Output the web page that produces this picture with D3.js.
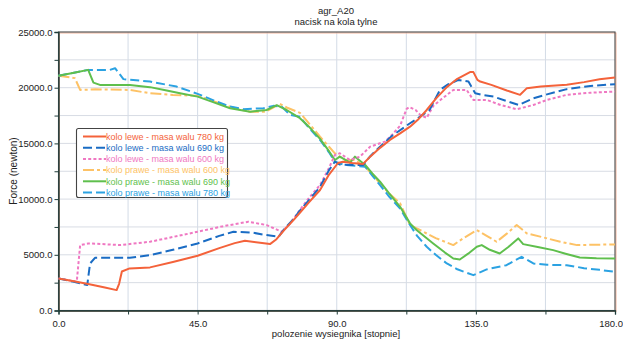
<!DOCTYPE html>
<html><head><meta charset="utf-8">
<script src="https://cdn.jsdelivr.net/npm/d3@7"></script>
<style>body{margin:0;background:#fff}svg{display:block}text{font-family:"Liberation Sans",Arial,sans-serif}</style>
</head><body><svg id="c" width="623" height="341"></svg>
<script>
const title1 = "agr_A20";
const title2 = "nacisk na kola tylne";
const xLabel = "polozenie wysiegnika [stopnie]";
const yLabel = "Force (newton)";
const xTickValues = [0, 45, 90, 135, 180];
const yTickValues = [0, 5000, 10000, 15000, 20000, 25000];
const seriesNames = [
  "kolo lewe - masa walu 780 kg",
  "kolo lewe - masa walu 690 kg",
  "kolo lewe - masa walu 600 kg",
  "kolo prawe - masa walu 600 kg",
  "kolo prawe - masa walu 690 kg",
  "kolo prawe - masa walu 780 kg"
];
// [degree, force]
const lewe780 = [[0,2880],[5,2620],[10,2350],[15,2060],[18.8,1830],[19.6,2400],[20.5,3500],[23,3780],[29.6,3870],[37,4350],[45,4910],[52,5600],[57,6050],[60.3,6260],[65.2,6080],[68.4,5960],[70.5,6400],[73,7220],[76,8120],[78,8750],[81,9700],[84.6,10820],[87.5,12200],[90.4,13240],[92,13360],[95,13250],[98.5,13150],[100.8,13810],[104,14600],[107.2,15310],[110.5,15900],[113.7,16500],[116.5,17200],[119.1,18000],[122,19000],[125.6,20050],[129,20800],[133.1,21400],[134.2,21400],[135.5,20700],[136.4,20550],[140,20250],[145,19750],[149.3,19360],[151.5,19960],[156,20100],[164.4,20260],[170,20500],[175,20750],[180,20910]];
const lewe690 = [[0,2880],[5,2580],[9.3,2280],[10.2,4220],[11.8,4730],[23.1,4730],[29.6,4970],[37,5450],[45,6020],[52,6700],[56.6,7070],[63,6980],[67,6780],[71.2,6620],[73,7300],[76,8200],[78,8950],[81,9900],[84.6,11100],[87.5,12600],[89.4,13360],[91,13100],[95,13060],[98.5,13060],[101,13900],[104,14710],[108,15700],[113.7,16810],[117,17400],[120,18000],[123.4,19800],[126,20300],[129.4,20700],[132.6,20550],[134.8,19500],[137,19350],[140.7,19200],[145,18800],[148.8,18450],[153.6,19050],[158,19400],[164.4,19870],[172,20150],[180,20320]];
const lewe600 = [[0,2880],[3,2730],[5.9,2570],[7,5870],[9.6,6020],[15,5950],[19.9,5870],[29.6,6170],[37,6600],[45,7070],[53,7550],[61.4,7970],[67.3,7670],[72.2,7070],[74.9,7800],[78,9000],[81,10100],[84.6,11260],[87.5,12800],[89.4,13960],[91,14110],[94.3,13510],[97.5,13810],[100.8,14710],[105.6,15160],[108,15800],[110.5,16600],[112.6,18100],[113.5,18250],[115.5,18000],[117,17560],[119.1,17290],[121.2,18360],[124,19000],[127.7,19800],[132,19800],[134.2,18900],[138.5,18900],[143,18450],[148.2,18070],[153.6,18450],[158,18900],[164.4,19360],[172,19550],[180,19650]];
const prawe600 = [[0,21070],[5.3,20860],[7,19800],[12,19850],[23,19800],[29.6,19500],[37,19350],[45,19270],[52,18600],[58,18100],[62,17830],[67,17850],[71.6,18540],[74,18200],[78.1,17740],[81,16800],[84.6,15600],[87.5,14700],[89.4,14110],[92.6,13510],[95.9,13510],[99.2,12910],[101.5,12200],[104,11420],[107,10500],[110.5,9620],[113.7,7670],[118,7070],[122,6500],[127.7,5870],[131,6500],[135.3,7220],[138.5,6700],[141.7,6170],[145,6900],[148.2,7670],[151.5,6920],[157,6550],[162.3,6170],[167.7,5870],[173,5900],[180,5930]];
const prawe690 = [[0,21070],[5,21350],[9.6,21600],[11.3,20460],[13.4,20250],[23.1,20250],[29.6,20050],[35,19750],[39.3,19500],[45,19200],[50,18700],[55.5,18160],[62,17850],[67.3,18000],[70.6,18430],[73.8,18000],[78.1,17260],[81,16500],[84.6,15400],[87.5,14300],[89.4,13510],[91,13810],[94.3,13270],[95.9,13810],[99.2,13060],[101.5,12300],[104,11560],[107,10500],[110.5,9310],[113.7,7820],[115.8,7220],[121.2,6020],[125,5200],[127.7,4670],[129.8,4580],[132.5,5100],[135.3,5720],[136.9,5870],[139.5,5450],[142.7,5120],[145.5,5700],[148.7,6470],[150.3,5960],[155,5700],[160,5420],[164,5100],[168.6,4760],[174,4680],[180,4670]];
const prawe780 = [[0,21070],[5,21350],[9.6,21600],[16.6,21600],[18.3,21750],[21,20770],[29.6,20550],[38.2,20100],[45,19450],[51.2,18750],[55,18350],[59.8,18070],[66.3,18160],[69.5,18370],[72.2,18300],[74.9,17560],[78,17400],[81,16400],[84.6,15310],[87.5,14200],[89.4,13360],[92.6,13060],[96,12990],[99.2,12910],[101.5,12100],[104,11260],[107,10200],[110.5,9160],[113.7,7670],[116,6700],[119.1,5720],[122,5000],[125.6,4225],[129,3700],[134.2,3170],[138.5,3690],[144.9,4070],[149.8,4820],[153.6,4225],[158,4100],[164.4,4070],[170,3800],[175,3650],[180,3470]];
const allSeries = [lewe780, lewe690, lewe600, prawe600, prawe690, prawe780];
const colors = ["#f4623a", "#1a6cc4", "#ef78c2", "#fdc266", "#5fbf4d", "#2ba2e2"];
const dashes = [null, "9,4", "3,2.2", "11,3,3,3", null, "9,4"];

const svg = d3.select("#c");
const L = 58.5, R = 615, T = 32, B = 310.5;
const x = d3.scaleLinear().domain([0, 180]).range([L, R]);
const y = d3.scaleLinear().domain([0, 25000]).range([B, T]);

// grid
const g = svg.append("g");
g.selectAll(".vg").data(d3.range(22.5, 180, 22.5)).enter().append("line")
  .attr("x1", d => x(d)).attr("x2", d => x(d)).attr("y1", T).attr("y2", B)
  .attr("stroke", "#d3dbe6").attr("stroke-width", 1);
g.selectAll(".hg").data(d3.range(2500, 25000, 2500)).enter().append("line")
  .attr("y1", d => y(d)).attr("y2", d => y(d)).attr("x1", L).attr("x2", R)
  .attr("stroke", "#d8dce4").attr("stroke-width", 1);

// frame (orange shadow + dark line)
svg.append("rect").attr("x", L + 1).attr("y", T + 1).attr("width", R - L).attr("height", B - T)
  .attr("fill", "none").attr("stroke", "#f4b49a").attr("stroke-width", 1);
svg.append("rect").attr("x", L).attr("y", T).attr("width", R - L).attr("height", B - T)
  .attr("fill", "none").attr("stroke", "#4a4a4a").attr("stroke-width", 1.1);

// axes
const xAxis = d3.axisBottom(x).tickValues(d3.range(0, 181, 22.5)).tickSize(4)
  .tickFormat(d => xTickValues.includes(d) ? d.toFixed(1) : "");
const xa = svg.append("g").attr("transform", `translate(0,${B})`).call(xAxis);
xa.select(".domain").attr("stroke", "#1f3d3a").attr("stroke-width", 1.3);
xa.selectAll(".tick line").attr("stroke", "#1f3d3a");
xa.selectAll("text").attr("font-size", 9.5).attr("fill", "#222").attr("dy", "0.95em");
// keep the last label inside the window
xa.selectAll(".tick").filter(d => d === 180).select("text").attr("text-anchor", "end").attr("x", 7.5);

const yAxis = d3.axisLeft(y).tickValues(d3.range(0, 25001, 2500)).tickSize(4)
  .tickFormat(d => yTickValues.includes(d) ? d.toFixed(1) : "");
const ya = svg.append("g").attr("transform", `translate(${L},0)`).call(yAxis);
ya.select(".domain").attr("stroke", "#1f3d3a").attr("stroke-width", 1.3);
ya.selectAll(".tick line").attr("stroke", "#1f3d3a");
ya.selectAll("text").attr("font-size", 9.5).attr("fill", "#222").attr("x", -6);

// lines
const line = d3.line().x(d => x(d[0])).y(d => y(d[1]));
const drawOrder = [3, 5, 4, 2, 1, 0];
drawOrder.forEach(i => {
  svg.append("path").datum(allSeries[i]).attr("d", line)
    .attr("fill", "none").attr("stroke", colors[i]).attr("stroke-width", 2)
    .attr("stroke-dasharray", dashes[i]).attr("stroke-linejoin", "round");
});

// titles
svg.append("text").attr("x", 336).attr("y", 14).attr("text-anchor", "middle").attr("font-size", 9.5).attr("fill", "#222").text(title1);
svg.append("text").attr("x", 336).attr("y", 25).attr("text-anchor", "middle").attr("font-size", 9.5).attr("fill", "#222").text(title2);
svg.append("text").attr("x", 336).attr("y", 337).attr("text-anchor", "middle").attr("font-size", 9.5).attr("fill", "#222").text(xLabel);
svg.append("text").attr("transform", "translate(17,171) rotate(-90)").attr("text-anchor", "middle").attr("font-size", 10).attr("fill", "#222").text(yLabel);

// legend
const lg = svg.append("g");
lg.append("rect").attr("x", 76.5).attr("y", 128.5).attr("width", 151).attr("height", 69).attr("rx", 2)
  .attr("fill", "#fff").attr("stroke", "#444").attr("stroke-width", 1.1);
seriesNames.forEach((name, i) => {
  const yy = 136.5 + i * 11.2;
  lg.append("line").attr("x1", 83).attr("x2", 106).attr("y1", yy).attr("y2", yy)
    .attr("stroke", colors[i]).attr("stroke-width", 2).attr("stroke-dasharray", dashes[i]);
  lg.append("text").attr("x", 106).attr("y", yy + 3.3).attr("font-size", 9).attr("fill", colors[i]).text(name);
});
</script></body></html>
